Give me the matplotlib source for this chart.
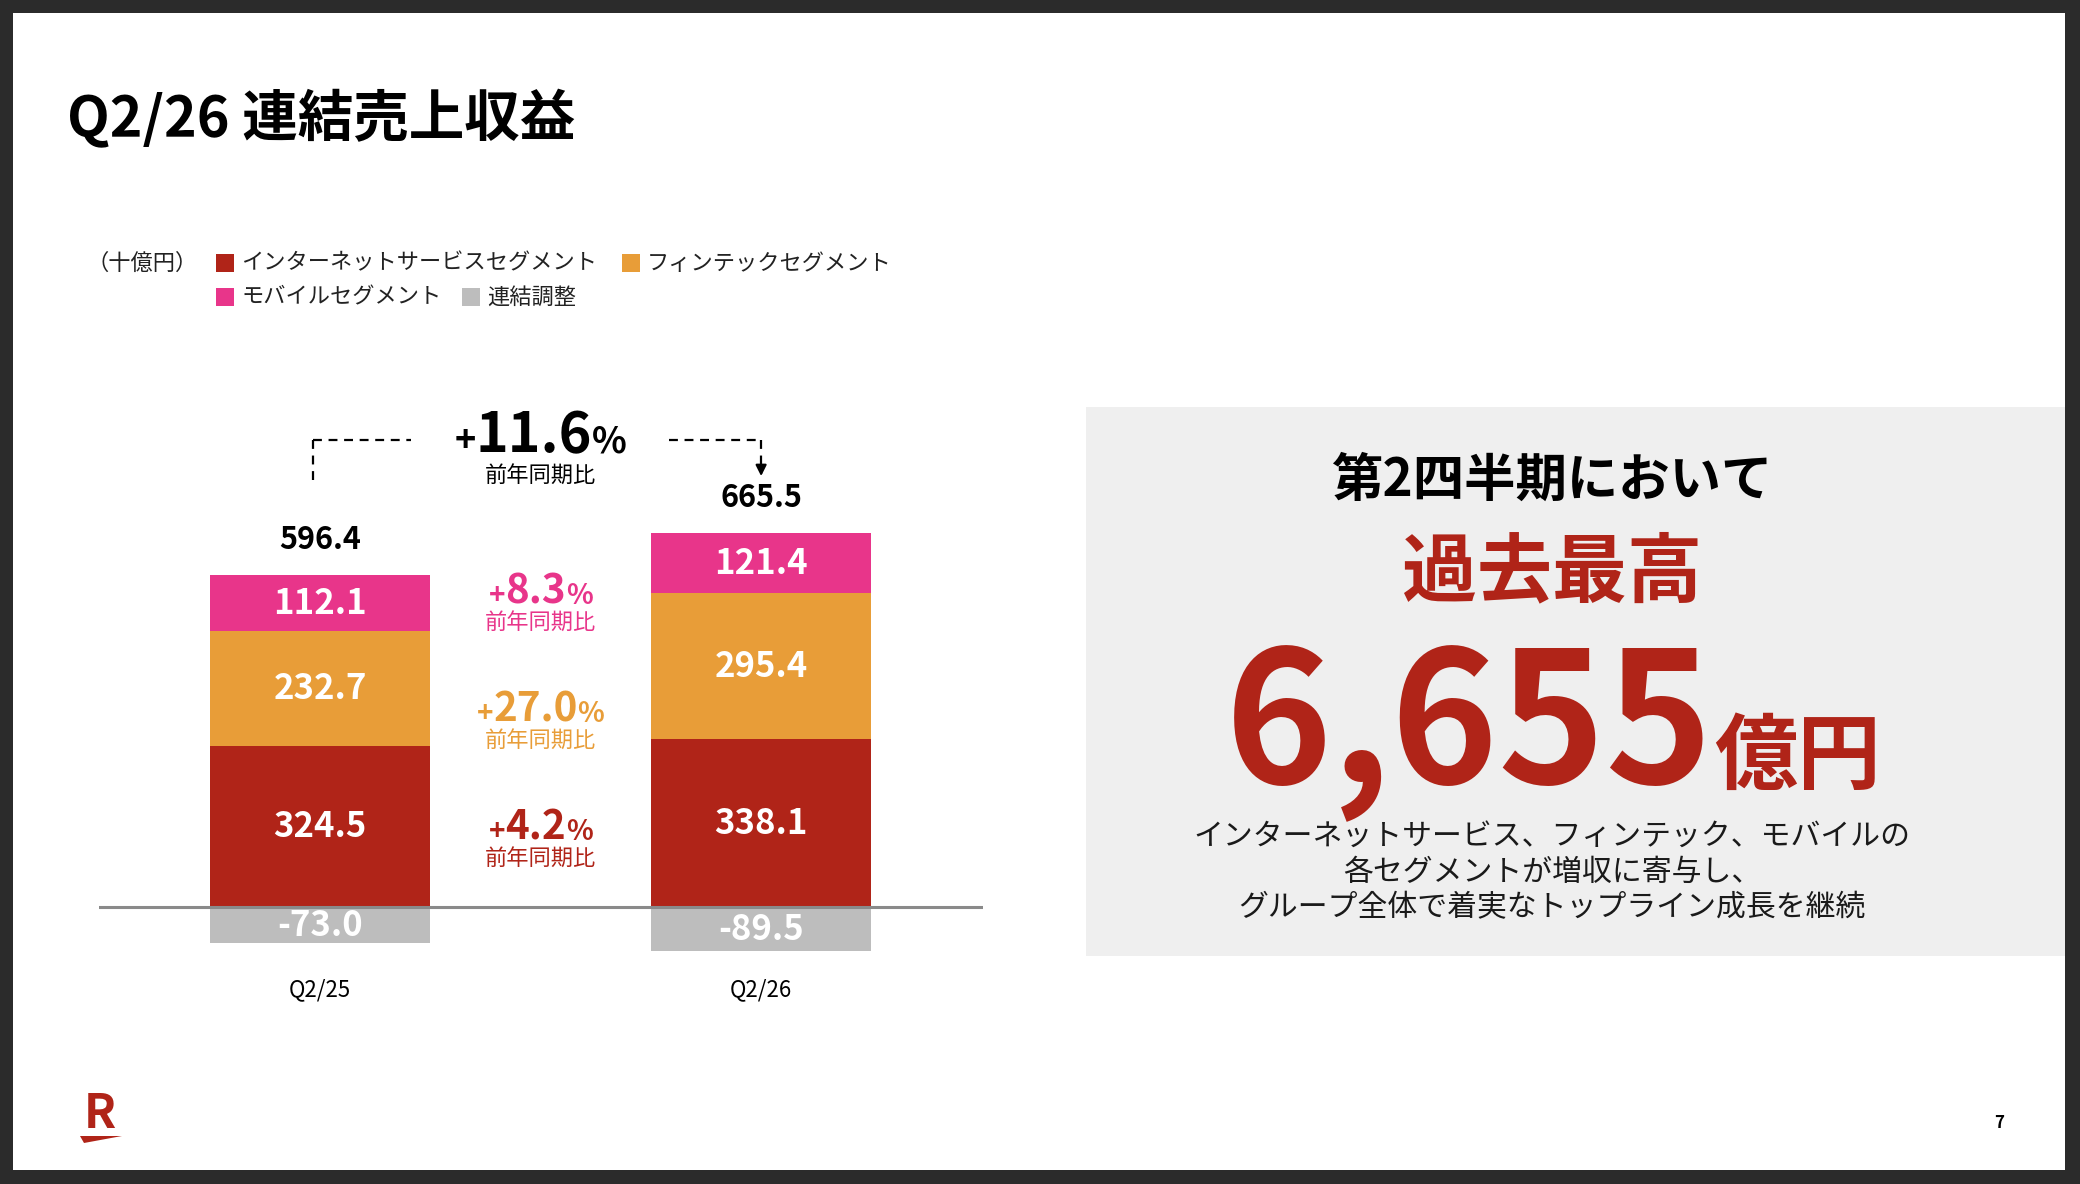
import matplotlib
matplotlib.use("Agg")
import matplotlib.pyplot as plt
from matplotlib.patches import Rectangle, Polygon
from matplotlib.transforms import IdentityTransform

plt.rcParams['font.family'] = ['Noto Sans CJK JP', 'DejaVu Sans']

# --- data (十億円) ---
quarters = ["Q2/25", "Q2/26"]
internet = [324.5, 338.1]
fintech = [232.7, 295.4]
mobile = [112.1, 121.4]
adjust = [-73.0, -89.5]
totals = [596.4, 665.5]

growth_internet = "+4.2"
growth_fintech = "+27.0"
growth_mobile = "+8.3"
growth_total = "+11.6"

record_value = "6,655"
record_unit = "億円"

RED = "#b02418"
ORANGE = "#e89d38"
PINK = "#e8358a"
GRAY = "#bdbdbd"

W, H = 2080, 1184
PX_PER_UNIT = 0.4955     # vertical pixels per 十億円
BASE_Y = 907             # pixel row (from top) of the zero line


def fx(x):
    return x / W


def fy(y):
    return 1 - y / H


fig = plt.figure(figsize=(W / 100, H / 100), dpi=100, facecolor="#2b2b2b")
renderer = fig.canvas.get_renderer()

# slide background and grey panel
fig.patches.append(Rectangle((fx(13), fy(1170)), (2065 - 13) / W, (1170 - 13) / H,
                             transform=fig.transFigure, facecolor="white",
                             edgecolor="none", zorder=-3))
fig.patches.append(Rectangle((fx(1086), fy(956)), (2065 - 1086) / W, (956 - 407) / H,
                             transform=fig.transFigure, facecolor="#efefef",
                             edgecolor="none", zorder=-2))

# title
fig.text(fx(67), fy(119), "Q2/26 連結売上収益", fontsize=40, fontweight="bold",
         va="center", ha="left", color="black")

# legend (drawn by hand, the layout is not a grid)
leg_size = 16
fig.text(fx(86), fy(263), "（十億円）", fontsize=leg_size, va="center", color="#222222")
legend_items = [
    (216, 263, RED, "インターネットサービスセグメント"),
    (622, 263, ORANGE, "フィンテックセグメント"),
    (216, 297, PINK, "モバイルセグメント"),
    (462, 297, GRAY, "連結調整"),
]
for lx, ly, col, label in legend_items:
    fig.patches.append(Rectangle((fx(lx), fy(ly + 9)), 18 / W, 18 / H,
                                 transform=fig.transFigure, facecolor=col,
                                 edgecolor="none"))
    fig.text(fx(lx + 25), fy(ly), label, fontsize=leg_size, va="center", color="#222222")

# --- stacked bar chart ---
ymin, ymax = -200, 900
ax = fig.add_axes([fx(99), fy(BASE_Y - ymin * PX_PER_UNIT),
                   884 / W, (ymax - ymin) * PX_PER_UNIT / H])
ax.set_facecolor("none")
ax.set_xlim(-0.501, 1.503)
ax.set_ylim(ymin, ymax)
ax.axis("off")

x = [0, 1]
bw = 0.5
bottom_fin = internet
bottom_mob = [a + b for a, b in zip(internet, fintech)]
tops = [a + b for a, b in zip(bottom_mob, mobile)]

ax.bar(x, internet, width=bw, color=RED, zorder=2)
ax.bar(x, fintech, width=bw, bottom=bottom_fin, color=ORANGE, zorder=2)
ax.bar(x, mobile, width=bw, bottom=bottom_mob, color=PINK, zorder=2)
ax.bar(x, adjust, width=bw, color=GRAY, zorder=2)
ax.axhline(0, color="#8a8a8a", lw=2.2, zorder=3)

val_kw = dict(ha="center", va="center", color="white", fontsize=25, fontweight="bold", zorder=4)
for i in range(2):
    ax.text(x[i], internet[i] / 2, f"{internet[i]:.1f}", **val_kw)
    ax.text(x[i], bottom_fin[i] + fintech[i] / 2, f"{fintech[i]:.1f}", **val_kw)
    ax.text(x[i], bottom_mob[i] + mobile[i] / 2, f"{mobile[i]:.1f}", **val_kw)
    ax.text(x[i], adjust[i] / 2, f"{adjust[i]:.1f}", **val_kw)
    ax.annotate(f"{totals[i]:.1f}", (x[i], tops[i]), xytext=(0, 35),
                textcoords="offset pixels", ha="center", va="center",
                fontsize=22, fontweight="bold", color="black", annotation_clip=False)
    ax.annotate(quarters[i], (x[i], 0), xytext=(0, -83), textcoords="offset pixels",
                ha="center", va="center", fontsize=16, color="black",
                annotation_clip=False)


def group_text(xc, yb, pieces):
    # pieces laid out left to right on a common baseline, centred on xc (display px)
    texts, widths = [], []
    for s, size, col in pieces:
        t = fig.text(0, 0, s, fontsize=size, color=col, fontweight="bold",
                     ha="left", va="baseline", transform=IdentityTransform())
        texts.append(t)
        widths.append(t.get_window_extent(renderer).width)
    cur = xc - sum(widths) / 2
    for t, w in zip(texts, widths):
        t.set_position((cur, yb))
        cur += w


def growth_label(value, color, y_base, big, small, gap):
    xc, yb = ax.transData.transform((0.5, y_base))
    group_text(xc, yb, [("+", small, color), (value[1:], big, color), ("%", small, color)])
    ax.annotate("前年同期比", (0.5, y_base), xytext=(0, -gap),
                textcoords="offset pixels", ha="center", va="center",
                fontsize=16, color=color, annotation_clip=False)


growth_label(growth_total, "black", 918, 40, 26, 23)
growth_label(growth_mobile, PINK, 612, 29, 20, 19)
growth_label(growth_fintech, ORANGE, 374, 29, 20, 19)
growth_label(growth_internet, RED, 136, 29, 20, 19)

# dashed connector between the totals
y_conn = 942
dash = dict(color="black", lw=1.6, linestyle=(0, (4, 3)), clip_on=False)
ax.plot([-0.016, -0.016], [862, y_conn], **dash)
ax.plot([-0.016, 0.206], [y_conn, y_conn], **dash)
ax.plot([0.791, 1.0], [y_conn, y_conn], **dash)
ax.plot([1.0, 1.0], [y_conn, 885], **dash)
ax.annotate("", xy=(1.0, 864), xytext=(1.0, 886), annotation_clip=False,
            arrowprops=dict(arrowstyle="-|>", color="black", lw=1.6, mutation_scale=16))

# --- right panel ---
fig.text(fx(1552), fy(480), "第2四半期において", fontsize=37, fontweight="bold",
         ha="center", va="center", color="black")
fig.text(fx(1552), fy(573), "過去最高", fontsize=54, fontweight="bold",
         ha="center", va="center", color=RED)
group_text(1553, H - 783, [(record_value, 131, RED), (record_unit, 60, RED)])

desc = ["インターネットサービス、フィンテック、モバイルの",
        "各セグメントが増収に寄与し、",
        "グループ全体で着実なトップライン成長を継続"]
for k, line in enumerate(desc):
    fig.text(fx(1552), fy(836 + 36 * k), line, fontsize=21.5, ha="center",
             va="center", color="#1a1a1a")

# logo and page number
fig.text(fx(100), fy(1114), "R", fontsize=34, fontweight="bold", ha="center",
         va="center", color=RED)
fig.patches.append(Polygon([(fx(80), fy(1136)), (fx(122), fy(1136)), (fx(84), fy(1143))],
                           closed=True, transform=fig.transFigure,
                           facecolor=RED, edgecolor="none"))
fig.text(fx(1999), fy(1123), "7", fontsize=12, fontweight="bold", ha="center",
         va="center", color="black")

fig.savefig("out.png", dpi=100, facecolor=fig.get_facecolor())
